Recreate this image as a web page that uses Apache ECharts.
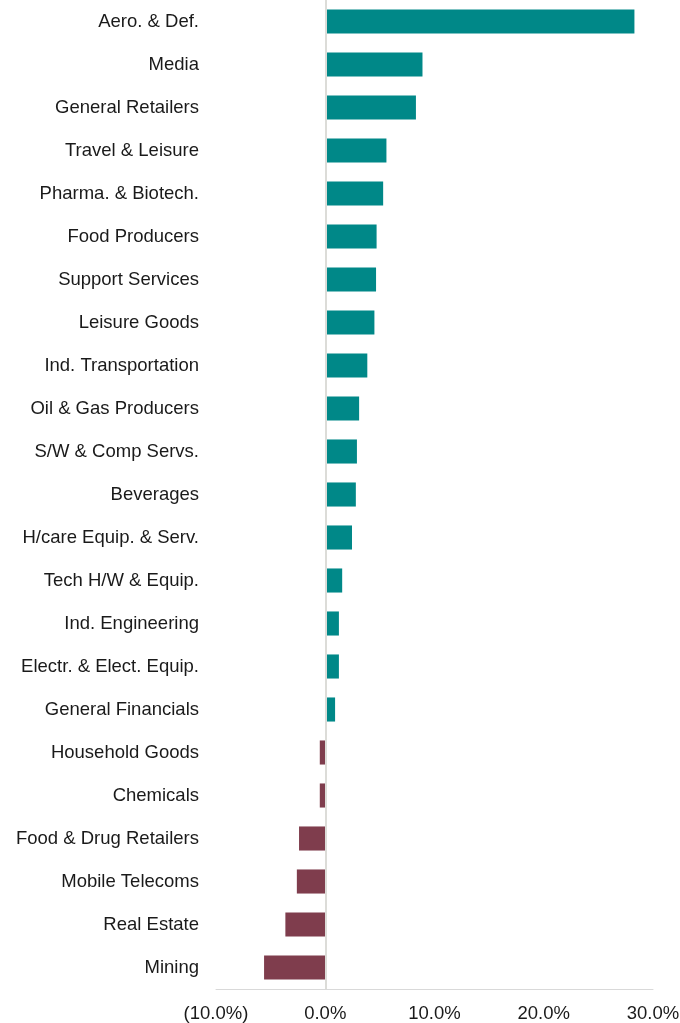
<!DOCTYPE html>
<html>
<head>
<meta charset="utf-8">
<script src="https://cdn.jsdelivr.net/npm/echarts@6/dist/echarts.min.js"></script>
<style>html,body{margin:0;padding:0;background:#fff;}#chart{width:680px;height:1023px;}</style>
</head>
<body>
<div id="chart"></div>
<script>
const categories = ["Aero. & Def.","Media","General Retailers","Travel & Leisure","Pharma. & Biotech.","Food Producers","Support Services","Leisure Goods","Ind. Transportation","Oil & Gas Producers","S/W & Comp Servs.","Beverages","H/care Equip. & Serv.","Tech H/W & Equip.","Ind. Engineering","Electr. & Elect. Equip.","General Financials","Household Goods","Chemicals","Food & Drug Retailers","Mobile Telecoms","Real Estate","Mining"];
const values = [28.3,8.9,8.3,5.6,5.3,4.7,4.65,4.5,3.85,3.1,2.9,2.8,2.45,1.55,1.25,1.25,0.9,-0.5,-0.5,-2.4,-2.6,-3.65,-5.6];
const xTicks = [-10,0,10,20,30];
const posColor = "#008888";
const negColor = "#7f3d4d";

const chart = echarts.init(document.getElementById('chart'), null, {renderer:'canvas'});
const fmt = v => v < 0 ? "(" + Math.abs(v).toFixed(1) + "%)" : v.toFixed(1) + "%";
chart.setOption({
  animation:false,
  grid:{left:216,right:27,top:0,bottom:34,containLabel:false,outerBoundsMode:'none'},
  xAxis:{type:'value',min:xTicks[0],max:xTicks[xTicks.length-1],interval:10,
    axisLine:{show:true,lineStyle:{color:'#d9d9d9',width:1}},
    axisTick:{show:false},splitLine:{show:false},
    axisLabel:{formatter:fmt,color:'#1a1a1a',fontSize:18.5,fontFamily:'Liberation Sans, Arial, sans-serif',margin:15}},
  yAxis:{type:'category',data:categories,inverse:true,
    axisLine:{show:false,onZero:false},axisTick:{show:false},
    axisLabel:{color:'#1a1a1a',fontSize:18.5,fontFamily:'Liberation Sans, Arial, sans-serif',margin:17}},
  series:[{type:'bar',barWidth:'56%',
    data:values.map(v=>({value:v,itemStyle:{color:v<0?negColor:posColor}})),
    markLine:{silent:true,symbol:'none',label:{show:false},
      lineStyle:{color:'#dcdcd8',width:2,type:'solid'},data:[{xAxis:0}]}}]
});
</script>
</body>
</html>
